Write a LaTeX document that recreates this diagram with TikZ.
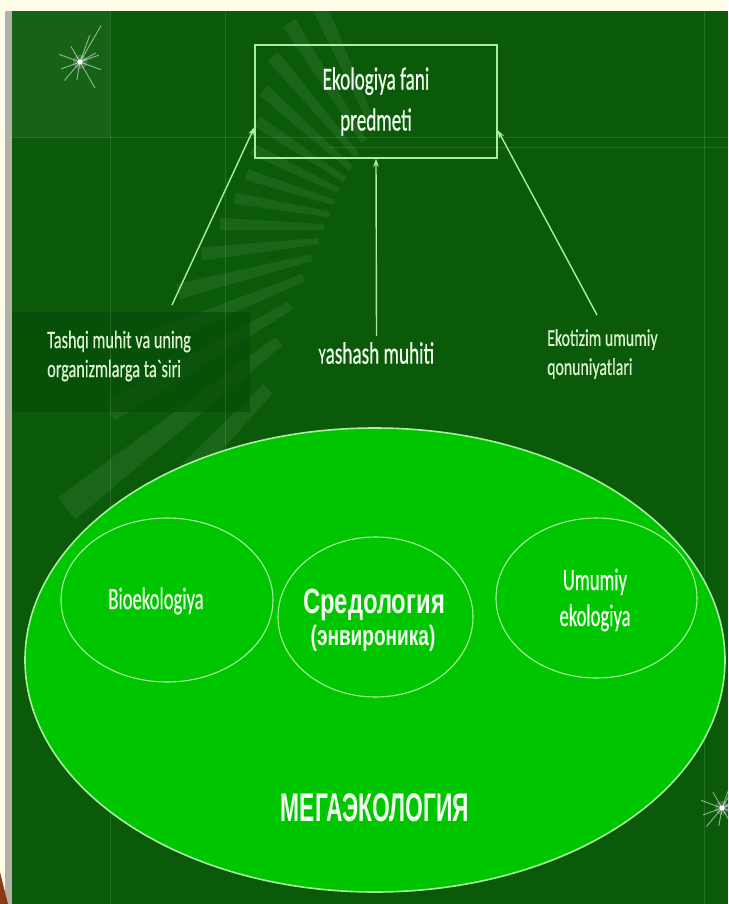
\documentclass[tikz,border=0pt]{standalone}
\usepackage{fontspec}
\usepackage{graphicx}
\setmainfont{Carlito}[FakeBold=0.6]
\newfontfamily\arialf{Liberation Sans}
\usetikzlibrary{arrows.meta,calc,shapes.geometric}
\definecolor{bgdark}{HTML}{0A5A0A}
\definecolor{bgdeep}{HTML}{074C07}
\definecolor{ellfill}{HTML}{00C600}
\definecolor{edgec}{HTML}{A8F0A0}
\definecolor{txtc}{HTML}{F2FFF0}
\definecolor{lblc}{HTML}{DDF5D2}
\definecolor{cream}{HTML}{FFFDE8}
\definecolor{greystrip}{HTML}{B4B2A8}
\definecolor{brick}{HTML}{8B3A1A}
\newcommand{\hs}[2]{\scalebox{#1}[1]{#2}}
\begin{document}
\begin{tikzpicture}[x=1pt,y=-1pt,
  arr/.style={draw=edgec, line width=1.4pt, -{Stealth[length=8pt,width=5.5pt]}},
  oval/.style={ellipse, draw=edgec, line width=1.1pt, inner sep=0pt},
  cal/.style={text=txtc, inner sep=0pt},
  lbl/.style={text=lblc, inner sep=0pt, align=left},
  faint/.style={draw=white, opacity=0.12, line width=0.8pt},
  ray/.style={fill=white, opacity=0.065}]
\useasboundingbox (0,0) rectangle (728,904);
% background
\fill[cream] (0,0) rectangle (728,904);
\fill[greystrip] (5,11) rectangle (12,904);
\fill[bgdark] (12,11) rectangle (728,904);
\fill[brick] (0,872) -- (8,904) -- (0,904) -- cycle;
\fill[white, opacity=0.05] (12,11) rectangle (110,137);
% faint stripes
\begin{scope}
\clip (12,11) rectangle (728,904);
\foreach \a/\ri/\ro in {244/120/260, 236/105/245, 228/98/228, 220/92/210, 212/90/196,
    204/90/186, 196/90/182, 188/92/188, 180/96/200, 172/102/220, 164/112/250,
    156/126/295, 148/150/360, 140/180/450, 132/220/520}
  \fill[ray] ($(420,230)+(\a:\ri)$) -- ($(420,230)+(\a+3.5:\ri)$)
     -- ($(420,230)+(\a+3.5:\ro)$) -- ($(420,230)+(\a:\ro)$) -- cycle;
\end{scope}
\fill[bgdeep, opacity=0.7] (12,312) rectangle (250,412);
% faint grid lines
\draw[faint] (12,137) -- (728,137);
\draw[faint] (330,147) -- (728,147);
\draw[faint] (110,11) -- (110,904);
\draw[faint] (225,11) -- (225,480);
\draw[faint] (704,11) -- (704,904);
% sparkles
\foreach \cx/\cy in {80/62, 722/808} {
  \fill[white, opacity=0.18] (\cx,\cy) circle (7);
  \foreach \a/\l in {-60/42,-20/20,20/22,60/30,100/18,130/24,160/20,200/22,240/18,290/28,330/18}
    \draw[white, opacity=0.55, line width=0.9pt, line cap=round] (\cx,\cy) -- ++(\a:\l);
  \fill[white] (\cx,\cy) circle (2.6);
}
% title box
\node[draw=edgec, line width=1.4pt, minimum width=242pt, minimum height=113pt,
      inner sep=0pt, text=txtc, align=center, font=\fontsize{32}{41}\selectfont]
  (title) at (376,101.5) {\hs{0.6}{Ekologiya fani}\\\hs{0.6}{predmeti}};
% labels
\node[lbl, font=\fontsize{25}{29}\selectfont, anchor=west] (lab1) at (47,356)
  {\hs{0.65}{Tashqi muhit va uning}\\\hs{0.65}{organizmlarga ta\textasciigrave siri}};
\node[cal, font=\fontsize{31}{34}\selectfont] (lab2) at (376.5,353)
  {\hs{0.62}{{\fontsize{23}{24}\selectfont Y}ashash muhiti}};
\node[lbl, font=\fontsize{24}{29}\selectfont, anchor=west] (lab3) at (547,354)
  {\hs{0.66}{Ekotizim umumiy}\\\hs{0.66}{qonuniyatlari}};
\coordinate (s1) at (172,305);
\coordinate (s3) at (597,315);
% arrows
\draw[arr] (s1) -- ($(title.north west)!0.726!(title.south west)$);
\path (lab2.north) ++(0,-6) coordinate (s2);
\draw[arr] (s2) -- (title.south);
\draw[arr] (s3) -- ($(title.north east)!0.75!(title.south east)$);
% big ellipse
\node[oval, fill=ellfill, line width=1.6pt, minimum width=700pt, minimum height=464pt]
  (mega) at (375,660) {};
\node[oval, minimum width=212pt, minimum height=164pt] (bio) at (167,600) {};
\node[cal, font=\fontsize{31}{34}\selectfont] (biot) at (156,601) {\hs{0.6}{Bioekologiya}};
\node[oval, minimum width=195pt, minimum height=160pt] (sred) at (375.5,617) {};
\node[cal, font=\arialf\bfseries\fontsize{35}{38}\selectfont] (sredt) at (374,605)
  {\hs{0.68}{Средология}};
\node[cal, font=\arialf\bfseries\fontsize{28}{30}\selectfont] (envt) at (373,638)
  {\hs{0.68}{(энвироника)}};
\node[oval, minimum width=201pt, minimum height=160pt] (umu) at (596.5,598) {};
\node[cal, align=center, font=\fontsize{31}{36}\selectfont] (umut) at (595,600)
  {\hs{0.6}{Umumiy}\\\hs{0.6}{ekologiya}};
\node[cal, font=\arialf\bfseries\fontsize{40}{42}\selectfont] (megat) at (375,808)
  {\hs{0.57}{МЕГАЭКОЛОГИЯ}};
\end{tikzpicture}
\end{document}
